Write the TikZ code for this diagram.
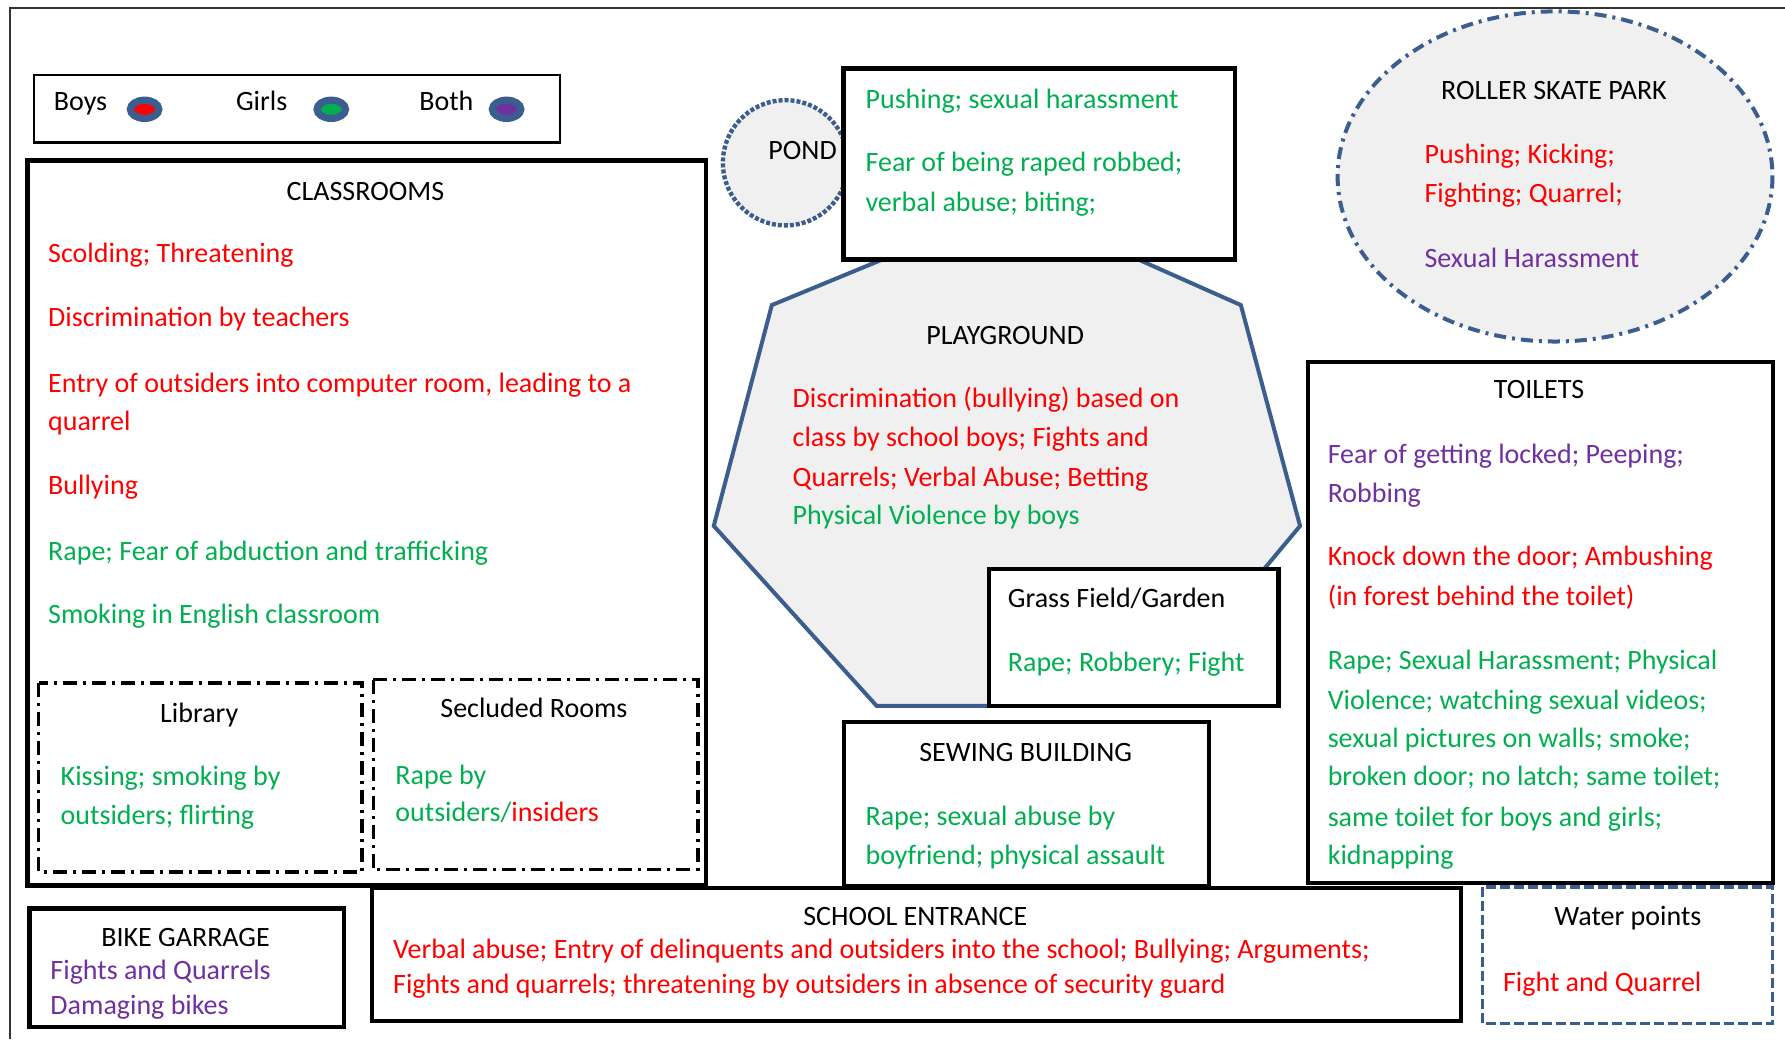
\documentclass[tikz,border=0pt]{standalone}
\usepackage{fontspec}
\setmainfont{Carlito}
\usetikzlibrary{shapes.geometric}
\definecolor{boyred}{HTML}{FF0000}
\definecolor{girlgreen}{HTML}{00B050}
\definecolor{bothpurple}{HTML}{7030A0}
\definecolor{zoneblue}{HTML}{3B5E8E}
\definecolor{zonegray}{HTML}{F0F0F0}
\begin{document}
\begin{tikzpicture}[x=0.2mm,y=-0.2mm,
    txt/.style={anchor=base west,inner sep=0pt,yshift=-0.6mm,font=\fontsize{14}{17}\selectfont},
    ttl/.style={anchor=base,inner sep=0pt,yshift=-0.6mm,font=\fontsize{14}{17}\selectfont},
    room/.style={draw,fill=white,line width=2.2pt},
    nook/.style={draw,fill=white,line width=1.7pt,dash pattern=on 7pt off 3pt on 1.5pt off 3pt},
    zone/.style={draw=zoneblue,fill=zonegray,line width=2pt},
    marker/.style={ellipse,draw=zoneblue,line width=3.6pt,inner sep=0pt,minimum width=5mm,minimum height=3.2mm}]
  \useasboundingbox (0,0) rectangle (1568,913);
  \draw[line width=1.2pt,black!80] (9,913) -- (9,7) -- (1568,7);
  % legend
  \draw[line width=1.3pt] (30,66) rectangle (492,125);
  \node[txt] (boys) at (47,94) {Boys};
  \node[marker,fill=boyred] (boysdot) at (127,96) {};
  \node[txt] (girls) at (207,94) {Girls};
  \node[marker,fill=girlgreen] (girlsdot) at (291,96) {};
  \node[txt] (both) at (368,94) {Both};
  \node[marker,fill=bothpurple] (bothdot) at (445,96) {};
  % playground, pond, roller skate park
  \draw[zone] (775,228) -- (678,268) -- (627,462) -- (770,620) -- (1010,620)
    -- (1142,462) -- (1090,268) -- (1000,228) -- cycle;
  \draw[zone,line width=2.2pt,dash pattern=on 2pt off 1pt] (690,143) ellipse [x radius=55,y radius=55];
  \draw[zone,line width=2pt,dash pattern=on 6pt off 3pt on 1.5pt off 3pt] (1366,155) ellipse [x radius=191,y radius=145];
  % rooms
  \draw[room] (741,60) rectangle (1085,228);
  \draw[room] (869,500) rectangle (1123,620);
  \draw[room] (24,141) rectangle (620,778);
  \draw[nook] (34,600) rectangle (318,766);
  \draw[nook] (328,597) rectangle (613,764);
  \draw[room] (26,798) rectangle (302,902);
  \draw[room,line width=2pt] (327,780) rectangle (1283,897);
  \draw[room,line width=2pt] (741,634) rectangle (1062,778);
  \draw[room,line width=2pt] (1149,318) rectangle (1557,776);
  \draw[draw=zoneblue,fill=white,line width=1.7pt,dash pattern=on 5pt off 2pt] (1302,779) rectangle (1557,899);
  % pond and pushing
  \node[ttl] (pond) at (705,137) {POND};
  \node[txt,girlgreen] (pond1) at (760,92) {Pushing; sexual harassment};
  \node[txt,girlgreen] (pond2) at (760,148) {Fear of being raped robbed;};
  \node[txt,girlgreen] (pond3) at (760,183) {verbal abuse; biting;};
  % roller skate park
  \node[ttl] (skate) at (1365,84) {ROLLER SKATE PARK};
  \node[txt,boyred] (skate1) at (1251,141) {Pushing; Kicking;};
  \node[txt,boyred] (skate2) at (1251,175) {Fighting; Quarrel;};
  \node[txt,bothpurple] (skate3) at (1251,232) {Sexual Harassment};
  % classrooms
  \node[ttl] (class) at (321,173) {CLASSROOMS};
  \node[txt,boyred] (class1) at (42,228) {Scolding; Threatening};
  \node[txt,boyred] (class2) at (42,284) {Discrimination by teachers};
  \node[txt,boyred] (class3) at (42,342) {Entry of outsiders into computer room, leading to a};
  \node[txt,boyred] (class4) at (42,375) {quarrel};
  \node[txt,boyred] (class5) at (42,431) {Bullying};
  \node[txt,girlgreen] (class6) at (42,489) {Rape; Fear of abduction and trafficking};
  \node[txt,girlgreen] (class7) at (42,545) {Smoking in English classroom};
  \node[ttl] (library) at (175,632) {Library};
  \node[txt,girlgreen] (library1) at (53,687) {Kissing; smoking by};
  \node[txt,girlgreen] (library2) at (53,721) {outsiders; flirting};
  \node[ttl] (secluded) at (469,627) {Secluded Rooms};
  \node[txt,girlgreen] (secluded1) at (347,686) {Rape by};
  \node[txt,girlgreen] (secluded2) at (347,719) {outsiders/\textcolor{boyred}{insiders}};
  % playground
  \node[ttl] (play) at (883,300) {PLAYGROUND};
  \node[txt,boyred] (play1) at (696,355) {Discrimination (bullying) based on};
  \node[txt,boyred] (play2) at (696,389) {class by school boys; Fights and};
  \node[txt,boyred] (play3) at (696,424) {Quarrels; Verbal Abuse; Betting};
  \node[txt,girlgreen] (play4) at (696,458) {Physical Violence by boys};
  \node[txt] (grass) at (885,531) {Grass Field/Garden};
  \node[txt,girlgreen] (grass1) at (885,587) {Rape; Robbery; Fight};
  % toilets
  \node[ttl] (toilets) at (1352,347) {TOILETS};
  \node[txt,bothpurple] (toilets1) at (1166,404) {Fear of getting locked; Peeping;};
  \node[txt,bothpurple] (toilets2) at (1166,438) {Robbing};
  \node[txt,boyred] (toilets3) at (1166,494) {Knock down the door; Ambushing};
  \node[txt,boyred] (toilets4) at (1166,529) {(in forest behind the toilet)};
  \node[txt,girlgreen] (toilets5) at (1166,585) {Rape; Sexual Harassment; Physical};
  \node[txt,girlgreen] (toilets6) at (1166,620) {Violence; watching sexual videos;};
  \node[txt,girlgreen] (toilets7) at (1166,654) {sexual pictures on walls; smoke;};
  \node[txt,girlgreen] (toilets8) at (1166,687) {broken door; no latch; same toilet;};
  \node[txt,girlgreen] (toilets9) at (1166,723) {same toilet for boys and girls;};
  \node[txt,girlgreen] (toilets10) at (1166,756) {kidnapping};
  % sewing building
  \node[ttl] (sewing) at (901,666) {SEWING BUILDING};
  \node[txt,girlgreen] (sewing1) at (760,722) {Rape; sexual abuse by};
  \node[txt,girlgreen] (sewing2) at (760,756) {boyfriend; physical assault};
  % bottom row
  \node[ttl] (bike) at (163,828) {BIKE GARRAGE};
  \node[txt,bothpurple] (bike1) at (44,857) {Fights and Quarrels};
  \node[txt,bothpurple] (bike2) at (44,888) {Damaging bikes};
  \node[ttl] (gate) at (804,810) {SCHOOL ENTRANCE};
  \node[txt,boyred] (gate1) at (345,839) {Verbal abuse; Entry of delinquents and outsiders into the school; Bullying; Arguments;};
  \node[txt,boyred] (gate2) at (345,870) {Fights and quarrels; threatening by outsiders in absence of security guard};
  \node[ttl] (water) at (1430,810) {Water points};
  \node[txt,boyred] (water1) at (1320,868) {Fight and Quarrel};
\end{tikzpicture}
\end{document}
